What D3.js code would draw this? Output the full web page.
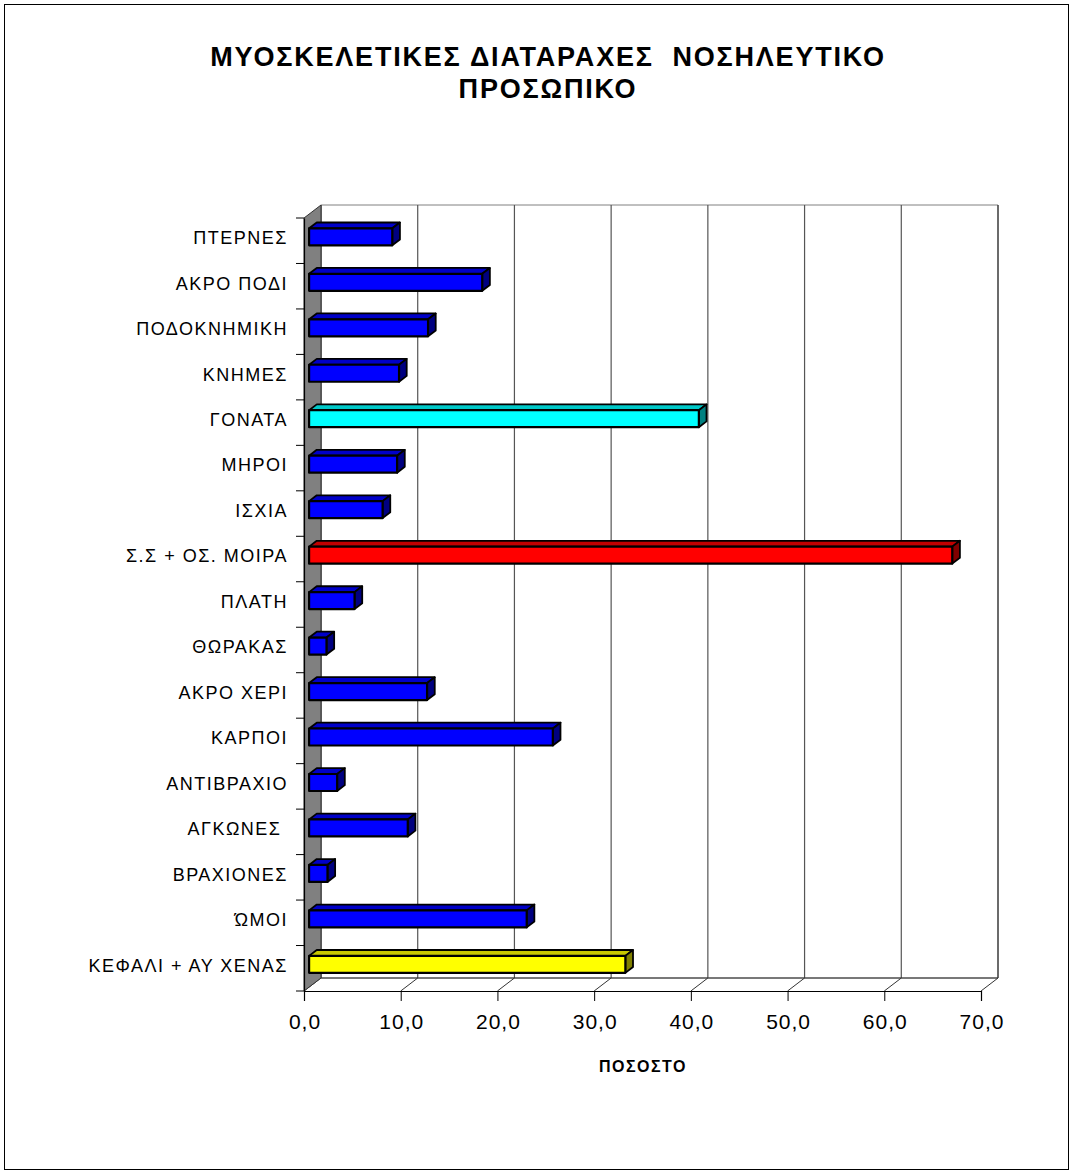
<!DOCTYPE html>
<html>
<head>
<meta charset="utf-8">
<script src="https://cdn.jsdelivr.net/npm/d3@7"></script>
<style>
  html, body { margin: 0; padding: 0; background: #fff; }
  svg { display: block; font-family: "Liberation Sans", Arial, sans-serif; }
  svg text { white-space: pre; }
</style>
</head>
<body>
<svg id="chart" width="1073" height="1175"></svg>
<script>
// Body regions, listed top to bottom as shown on the category axis
const categories = [
  "ΠΤΕΡΝΕΣ", "ΑΚΡΟ ΠΟΔΙ", "ΠΟΔΟΚΝΗΜΙΚΗ", "ΚΝΗΜΕΣ", "ΓΟΝΑΤΑ", "ΜΗΡΟΙ",
  "ΙΣΧΙΑ", "Σ.Σ + ΟΣ. ΜΟΙΡΑ", "ΠΛΑΤΗ", "ΘΩΡΑΚΑΣ", "ΑΚΡΟ ΧΕΡΙ", "ΚΑΡΠΟΙ",
  "ΑΝΤΙΒΡΑΧΙΟ", "ΑΓΚΩΝΕΣ ", "ΒΡΑΧΙΟΝΕΣ", "ΏΜΟΙ", "ΚΕΦΑΛΙ + ΑΥ ΧΕΝΑΣ"
];
// Percentage of nursing staff reporting each disorder
const values = [
  8.6, 17.9, 12.3, 9.3, 40.3, 9.1,
  7.6, 66.5, 4.7, 1.8, 12.2, 25.2,
  2.9, 10.2, 1.9, 22.5, 32.7
];
// Fill group per bar: front / top / side shades
const groups = [
  "blue", "blue", "blue", "blue", "cyan", "blue",
  "blue", "red", "blue", "blue", "blue", "blue",
  "blue", "blue", "blue", "blue", "yellow"
];
const tickValues = [0, 10, 20, 30, 40, 50, 60, 70];
const tickLabels = ["0,0", "10,0", "20,0", "30,0", "40,0", "50,0", "60,0", "70,0"];
const titleLines = ["ΜΥΟΣΚΕΛΕΤΙΚΕΣ ΔΙΑΤΑΡΑΧΕΣ  ΝΟΣΗΛΕΥΤΙΚΟ", "ΠΡΟΣΩΠΙΚΟ"];
const axisTitle = "ΠΟΣΟΣΤΟ";

const palette = {
  blue:   { front: "#0000FF", top: "#0000C8", side: "#000080" },
  cyan:   { front: "#00FFFF", top: "#00C8C8", side: "#008080" },
  red:    { front: "#FF0000", top: "#C00000", side: "#800000" },
  yellow: { front: "#FFFF00", top: "#C8C800", side: "#808000" }
};

(function draw() {
  const svg = d3.select("#chart");

  // Outer chart frame
  svg.append("rect")
    .attr("x", 4.5).attr("y", 4.5).attr("width", 1064).attr("height", 1165)
    .attr("fill", "#fff").attr("stroke", "#000").attr("stroke-width", 1);

  // Title
  svg.append("text")
    .attr("text-anchor", "middle")
    .attr("font-weight", "bold").attr("font-size", 27)
    .attr("letter-spacing", 1.8)
    .selectAll("tspan").data(titleLines).join("tspan")
    .attr("x", 548).attr("y", (d, i) => 66 + i * 32)
    .text(d => d);

  // Front plane geometry and 3D depth offset
  const pLeft = 304, pRight = 981, pTop = 218, pBottom = 991;
  const depthX = 17, depthY = -13;
  const x = d3.scaleLinear().domain([0, 70]).range([pLeft, pRight]);
  const y = d3.scaleBand().domain(categories).range([pTop, pBottom]).padding(0);
  const p = (px, py, t) => [px + depthX * t, py + depthY * t];
  const pts = arr => arr.map(d => d.join(",")).join(" ");

  const g = svg.append("g");

  // Back wall
  g.append("polygon")
    .attr("points", pts([p(pLeft, pTop, 1), p(pRight, pTop, 1), p(pRight, pBottom, 1), p(pLeft, pBottom, 1)]))
    .attr("fill", "#fff").attr("stroke", "#808080").attr("stroke-width", 1);

  // Vertical gridlines on the back wall
  g.selectAll("line.grid").data(tickValues).join("line")
    .attr("class", "grid")
    .attr("x1", d => p(x(d), pTop, 1)[0]).attr("y1", p(0, pTop, 1)[1])
    .attr("x2", d => p(x(d), pBottom, 1)[0]).attr("y2", p(0, pBottom, 1)[1])
    .attr("stroke", d => d === 70 ? "#333" : "#555").attr("stroke-width", 1.2);

  // Floor: back edge and depth lines at each tick
  g.append("line")
    .attr("x1", p(pLeft, pBottom, 1)[0]).attr("y1", p(pLeft, pBottom, 1)[1])
    .attr("x2", p(pRight, pBottom, 1)[0]).attr("y2", p(pRight, pBottom, 1)[1])
    .attr("stroke", "#333");
  g.selectAll("line.floor").data(tickValues).join("line")
    .attr("class", "floor")
    .attr("x1", d => x(d)).attr("y1", pBottom)
    .attr("x2", d => p(x(d), pBottom, 1)[0]).attr("y2", p(0, pBottom, 1)[1])
    .attr("stroke", "#333");

  // Side wall (grey)
  g.append("polygon")
    .attr("points", pts([p(pLeft, pTop, 0), p(pLeft, pTop, 1), p(pLeft, pBottom, 1), p(pLeft, pBottom, 0)]))
    .attr("fill", "#808080").attr("stroke", "#333").attr("stroke-width", 1);

  // Value axis along the front edge
  const xAxis = d3.axisBottom(x).tickValues(tickValues)
    .tickFormat((d, i) => tickLabels[i]).tickSize(10).tickPadding(13);
  const xg = svg.append("g").attr("transform", `translate(0,${pBottom})`).call(xAxis);
  xg.select(".domain").attr("stroke", "#000").attr("stroke-width", 1.2);
  xg.selectAll(".tick line").attr("stroke", "#000");
  xg.selectAll("text").attr("font-size", 21).attr("fill", "#000")
    .attr("letter-spacing", 1).attr("dx", 0.5)
    .attr("font-family", "Liberation Sans, Arial, sans-serif");

  // Category axis along the front-left edge
  const yAxis = d3.axisLeft(y).tickSize(0).tickPadding(16);
  const yg = svg.append("g").attr("transform", `translate(${pLeft},0)`).call(yAxis);
  yg.select(".domain").attr("stroke", "#000").attr("stroke-width", 1.2);
  yg.selectAll("text").attr("font-size", 18).attr("fill", "#000")
    .attr("letter-spacing", 1.5)
    .attr("font-family", "Liberation Sans, Arial, sans-serif")
    .attr("dy", "3.4px");
  // Tick marks at category boundaries
  const bounds = categories.map(c => y(c)).concat([pBottom]);
  svg.append("g").selectAll("line").data(bounds).join("line")
    .attr("x1", pLeft - 8).attr("x2", pLeft).attr("y1", d => d).attr("y2", d => d)
    .attr("stroke", "#000");

  // Axis title
  svg.append("text").attr("x", 643).attr("y", 1072).attr("text-anchor", "middle")
    .attr("font-weight", "bold").attr("font-size", 16).attr("letter-spacing", 1.5)
    .text(axisTitle);

  // 3D bars
  const t0 = 0.3, t1 = 0.75, barH = 17;
  const rows = categories.map((c, i) => ({ c, v: values[i], col: palette[groups[i]] }));
  const bars = svg.append("g").selectAll("g").data(rows).join("g");
  const geo = d => {
    const cy = y(d.c) + y.bandwidth() / 2;
    return { x0: x(0), x1: x(d.v), yt: cy - barH / 2, yb: cy + barH / 2 };
  };
  bars.append("polygon")
    .attr("points", d => { const o = geo(d);
      return pts([p(o.x0, o.yt, t0), p(o.x1, o.yt, t0), p(o.x1, o.yt, t1), p(o.x0, o.yt, t1)]); })
    .attr("fill", d => d.col.top).attr("stroke", "#000").attr("stroke-width", 1.8)
    .attr("stroke-linejoin", "round");
  bars.append("polygon")
    .attr("points", d => { const o = geo(d);
      return pts([p(o.x1, o.yt, t0), p(o.x1, o.yt, t1), p(o.x1, o.yb, t1), p(o.x1, o.yb, t0)]); })
    .attr("fill", d => d.col.side).attr("stroke", "#000").attr("stroke-width", 1.8)
    .attr("stroke-linejoin", "round");
  bars.append("polygon")
    .attr("points", d => { const o = geo(d);
      return pts([p(o.x0, o.yt, t0), p(o.x1, o.yt, t0), p(o.x1, o.yb, t0), p(o.x0, o.yb, t0)]); })
    .attr("fill", d => d.col.front).attr("stroke", "#000").attr("stroke-width", 2.2)
    .attr("stroke-linejoin", "round");
})();
</script>
</body>
</html>
